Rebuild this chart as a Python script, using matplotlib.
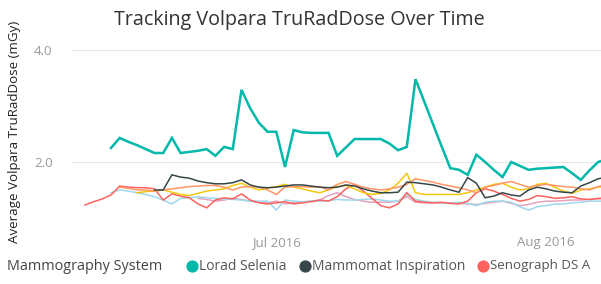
import matplotlib
matplotlib.use("Agg")
import matplotlib.pyplot as plt
import matplotlib.dates as mdates
from matplotlib.lines import Line2D
import pandas as pd

plt.rcParams['font.family'] = ['Open Sans', 'DejaVu Sans']

title = "Tracking Volpara TruRadDose Over Time"
y_label = "Average Volpara TruRadDose (mGy)"
legend_title = "Mammography System"
legend_names = ["Lorad Selenia", "Mammomat Inspiration", "Senograph DS A"]

# daily averages
lorad_start = "2016-06-12"
lorad = [2.25, 2.43, 2.36, 2.30, 2.23, 2.16, 2.16, 2.43, 2.16, 2.18,
         2.20, 2.23, 2.11, 2.27, 2.23, 3.29, 2.96, 2.70, 2.54, 2.54,
         1.91, 2.57, 2.53, 2.52, 2.52, 2.52, 2.11, 2.26, 2.41, 2.41,
         2.41, 2.41, 2.33, 2.21, 2.27, 3.48, 3.08, 2.68, 2.28, 1.89,
         1.86, 1.77, 2.13, 2.00, 1.86, 1.73, 2.00, 1.93, 1.86, 1.88,
         1.89, 1.90, 1.91, 1.80, 1.68, 1.85, 2.00, 2.05]

mammomat_start = "2016-06-17"
mammomat = [1.50, 1.50, 1.77, 1.73, 1.71, 1.66, 1.63, 1.61, 1.61, 1.63,
            1.68, 1.59, 1.55, 1.54, 1.55, 1.57, 1.59, 1.59, 1.57, 1.55,
            1.54, 1.55, 1.59, 1.57, 1.52, 1.48, 1.45, 1.45, 1.46, 1.64,
            1.63, 1.61, 1.59, 1.55, 1.50, 1.46, 1.72, 1.62, 1.36, 1.39,
            1.45, 1.41, 1.39, 1.50, 1.55, 1.52, 1.48, 1.46, 1.45, 1.57,
            1.63, 1.70, 1.73]

senograph_start = "2016-06-09"
senograph = [1.23, 1.29, 1.34, 1.41, 1.57, 1.55, 1.54, 1.54, 1.52, 1.32,
             1.43, 1.39, 1.36, 1.25, 1.18, 1.32, 1.36, 1.34, 1.43, 1.32,
             1.27, 1.25, 1.27, 1.29, 1.25, 1.27, 1.29, 1.32, 1.30, 1.38,
             1.52, 1.60, 1.48, 1.35, 1.22, 1.18, 1.25, 1.45, 1.30, 1.28,
             1.27, 1.28, 1.26, 1.25, 1.30, 1.45, 1.52, 1.48, 1.42, 1.35,
             1.30, 1.33, 1.40, 1.38, 1.35, 1.36, 1.38, 1.34, 1.33, 1.35,
             1.36]

sys4_start = "2016-06-15"
sys4 = [1.45, 1.47, 1.48, 1.50, 1.46, 1.42, 1.40, 1.44, 1.48, 1.50,
        1.52, 1.58, 1.62, 1.55, 1.50, 1.53, 1.56, 1.60, 1.55, 1.52,
        1.48, 1.45, 1.50, 1.56, 1.58, 1.52, 1.45, 1.42, 1.44, 1.50,
        1.62, 1.80, 1.45, 1.42, 1.42, 1.42, 1.42, 1.42, 1.45, 1.50,
        1.55, 1.60, 1.62, 1.55, 1.50, 1.52, 1.60, 1.62, 1.55, 1.48,
        1.44, 1.50, 1.52, 1.55, 1.56]

sys5_start = "2016-06-12"
sys5 = [1.45, 1.50, 1.48, 1.45, 1.42, 1.38, 1.32, 1.25, 1.35, 1.36,
        1.38, 1.36, 1.35, 1.34, 1.33, 1.32, 1.30, 1.30, 1.30, 1.14,
        1.32, 1.30, 1.29, 1.30, 1.30, 1.31, 1.33, 1.32, 1.32, 1.33,
        1.34, 1.32, 1.30, 1.30, 1.42, 1.33, 1.30, 1.28, 1.27, 1.26,
        1.28, 1.26, 1.22, 1.28, 1.30, 1.30, 1.28, 1.20, 1.14, 1.20,
        1.22, 1.25, 1.25, 1.27, 1.28, 1.30, 1.30, 1.30]

sys6_start = "2016-06-13"
sys6 = [1.55, 1.53, 1.50, 1.50, 1.48, 1.50, 1.52, 1.54, 1.56, 1.57,
        1.58, 1.58, 1.55, 1.50, 1.55, 1.56, 1.55, 1.50, 1.42, 1.55,
        1.56, 1.56, 1.55, 1.56, 1.50, 1.60, 1.65, 1.60, 1.55, 1.52,
        1.50, 1.52, 1.55, 1.60, 1.70, 1.67, 1.64, 1.60, 1.57, 1.54,
        1.50, 1.45, 1.55, 1.58, 1.62, 1.65, 1.60, 1.55, 1.58, 1.60,
        1.58, 1.56, 1.55, 1.52, 1.50, 1.56, 1.60]

sys7_start = "2016-06-22"
sys7 = [1.35, 1.33, 1.30, 1.32, 1.35, 1.33, 1.30, 1.28, 1.27, 1.30,
        1.25, 1.27, 1.28, 1.30, 1.32, 1.40, 1.45, 1.38, 1.33, 1.30,
        1.28, 1.28, 1.28, 1.30, 1.38, 1.28, 1.27, 1.27, 1.27, 1.27,
        1.26, 1.25, 1.24, 1.26, 1.28, 1.30, 1.26, 1.22, 1.24, 1.28,
        1.30, 1.30, 1.31, 1.32, 1.32, 1.33, 1.34, 1.34]

y_ticks = [2.0, 4.0]
x_ticks = ["2016-07-01", "2016-08-01"]
x_tick_labels = ["Jul 2016", "Aug 2016"]

fig = plt.figure(figsize=(6.01, 2.84), dpi=100)
ax = fig.add_axes([72/601, 1-228/284, 1-72/601, (228-40)/284])

series = [
    (sys7_start, sys7, "#E6A1BE", 1.1),
    (sys5_start, sys5, "#9ED8EC", 1.1),
    (senograph_start, senograph, "#FD625E", 1.1),
    (sys4_start, sys4, "#F2C80F", 1.1),
    (sys6_start, sys6, "#FE9666", 1.1),
    (mammomat_start, mammomat, "#374649", 1.1),
    (lorad_start, lorad, "#01B8AA", 1.8),
]
for start, vals, col, lw in series:
    d = pd.date_range(start, periods=len(vals), freq="D")
    ax.plot(d, vals, color=col, lw=lw, solid_joinstyle="miter")

x0 = mdates.date2num(pd.Timestamp(lorad_start))
ax.set_xlim(x0 - 39/8.7, x0 + 490/8.7)
ax.set_ylim(0.82, 4.18)
ax.set_yticks(y_ticks)
ax.set_yticklabels([f"{v:.1f}" for v in y_ticks])
ax.set_xticks([pd.Timestamp(t) for t in x_ticks])
ax.set_xticklabels(x_tick_labels)
ax.tick_params(length=0, labelsize=9.5, colors="#999999")
ax.tick_params(axis="x", pad=6)
ax.tick_params(axis="y", pad=14)
ax.grid(axis="y", color="#e8e8e8", lw=0.8)
ax.set_axisbelow(True)
for s in ax.spines.values():
    s.set_visible(False)

fig.text(299/601, 1-20/284, title, ha="center", va="center",
         fontsize=14.2, color="#333333")
fig.text(15/601, 1-132/284, y_label, rotation=90, ha="center", va="center",
         fontsize=9.6, color="#222222")

# legend row
leg_y = 1 - 266/284
fig.text(7/601, leg_y, legend_title, ha="left", va="center",
         fontsize=10.4, color="#444444")
legend_colors = ["#01B8AA", "#374649", "#FD625E"]
legend_x = [192, 305, 483]
legend_sizes = [10.0, 10.0, 9.6]
for name, col, xp, fs in zip(legend_names, legend_colors, legend_x, legend_sizes):
    fig.add_artist(Line2D([xp/601], [leg_y], marker="o", ls="none",
                          color=col, markersize=7.8,
                          transform=fig.transFigure))
    fig.text((xp + 7)/601, leg_y, name, ha="left", va="center",
             fontsize=fs, color="#555555")

fig.savefig("out.png", dpi=100)
